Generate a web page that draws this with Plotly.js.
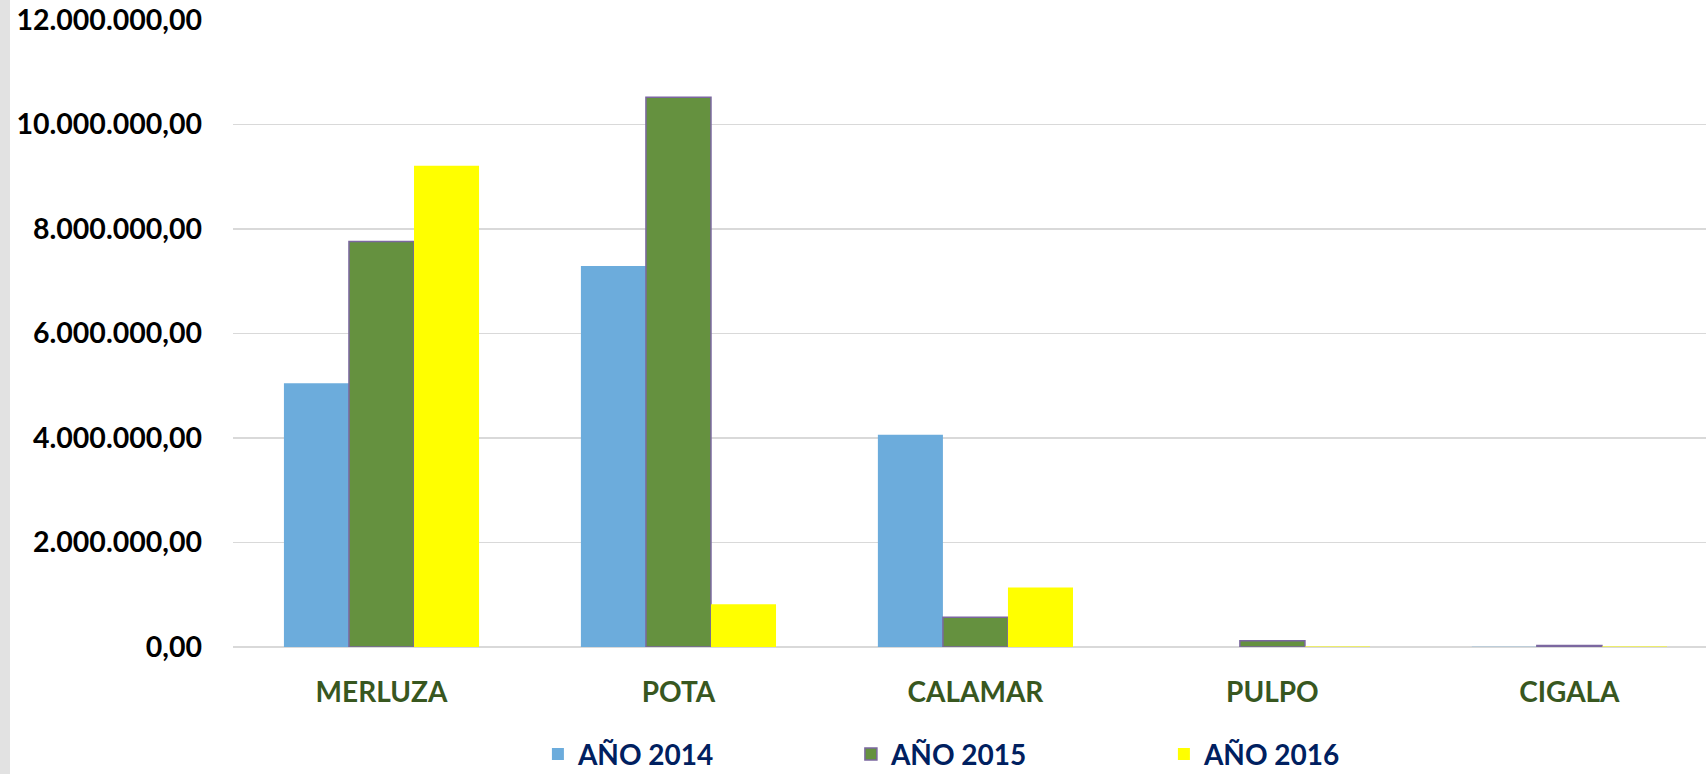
<!DOCTYPE html>
<html>
<head>
<meta charset="utf-8">
<script src="https://cdn.plot.ly/plotly-3.0.1.min.js"></script>
<style>
  html, body { margin: 0; padding: 0; background: #ffffff; }
  #wrap { width: 1696px; height: 774px; border-left: 10px solid #e2e2e2; }
  #chart { width: 1696px; height: 774px; }
</style>
</head>
<body>
<div id="wrap"><div id="chart"></div></div>
<script>
const categories = ["MERLUZA", "POTA", "CALAMAR", "PULPO", "CIGALA"];
const seriesNames = ["AÑO 2014", "AÑO 2015", "AÑO 2016"];
const values2014 = [5050000, 7290000, 4060000, 0, 6000];
const values2015 = [7760000, 10520000, 570000, 120000, 30000];
const values2016 = [9210000, 820000, 1140000, 10000, 8000];
const yTicks = [0, 2000000, 4000000, 6000000, 8000000, 10000000, 12000000];

const colors = ["#6cacdc", "#65913f", "#ffff00"];
const lines = [
  {color: "#6cacdc", width: 0},
  {color: "#7b67a0", width: 1.5},
  {color: "#ffff00", width: 0}
];
const allValues = [values2014, values2015, values2016];

const traces = allValues.map((vals, i) => ({
  type: "bar",
  name: seriesNames[i],
  x: categories,
  y: vals,
  marker: {color: colors[i], line: lines[i]},
  hoverinfo: "skip"
}));

const font = "Lato, 'Open Sans', sans-serif";

const layout = {
  width: 1696,
  height: 774,
  margin: {l: 223, r: 0, t: 20, b: 127, autoexpand: false},
  paper_bgcolor: "#ffffff",
  plot_bgcolor: "#ffffff",
  separators: ",.",
  barmode: "group",
  bargap: 0.343,
  bargroupgap: 0,
  showlegend: true,
  legend: {
    orientation: "h",
    x: 0.207,
    xanchor: "left",
    y: -0.171,
    yanchor: "middle",
    entrywidth: 268,
    entrywidthmode: "pixels",
    font: {family: font, size: 28, color: "#002060", weight: "bold"},
    bgcolor: "rgba(0,0,0,0)"
  },
  xaxis: {
    type: "category",
    range: [-0.5, 4.46],
    showgrid: false,
    showline: false,
    zeroline: false,
    ticks: "",
    ticklabelstandoff: 26,
    tickfont: {family: font, size: 28, color: "#38571f", weight: "bold"}
  },
  yaxis: {
    range: [0, 12000000],
    tickvals: yTicks,
    tickformat: ",.2f",
    showgrid: true,
    gridcolor: "#d9d9d9",
    gridwidth: 1.5,
    zeroline: true,
    zerolinecolor: "#d9d9d9",
    zerolinewidth: 1.5,
    showline: false,
    ticks: "",
    ticklabelstandoff: 30,
    tickfont: {family: font, size: 28.5, color: "#000000", weight: "bold"}
  }
};

Plotly.newPlot("chart", traces, layout, {displayModeBar: false, staticPlot: true});
</script>
</body>
</html>
